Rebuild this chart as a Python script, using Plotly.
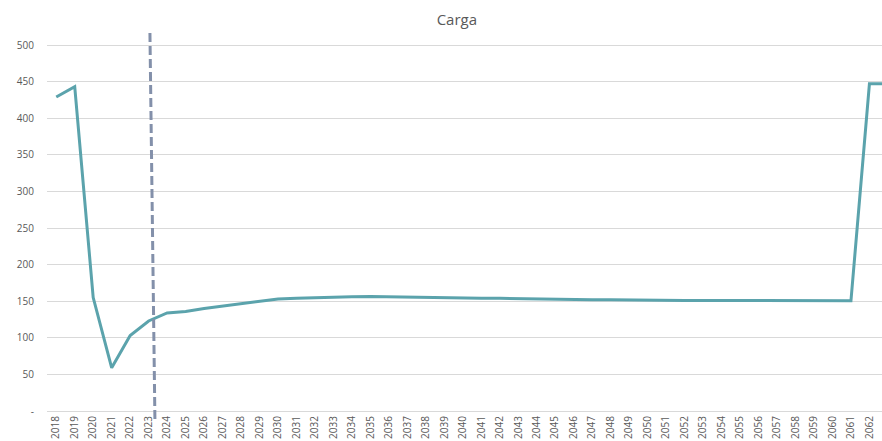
import plotly.graph_objects as go

# Annual series
years = [str(y) for y in range(2018, 2064)]
carga = [
    429, 443, 155, 59, 103, 123, 134, 136, 140, 143,   # 2018-2027
    147, 150, 153, 154, 155, 155.5, 156, 156.5, 156, 155.5,  # 2028-2037
    155, 155, 154.5, 154, 154, 153.5, 153, 153, 152.5, 152,  # 2038-2047
    152, 151.5, 151.5, 151.5, 151, 151, 151, 151, 150.5, 150.5,  # 2048-2057
    150.5, 150.5, 150.5, 150.5, 447, 447,                  # 2058-2063
]
marker_year = "2023"

y_tickvals = [0, 50, 100, 150, 200, 250, 300, 350, 400, 450, 500]
y_ticktext = ["-", "50", "100", "150", "200", "250", "300", "350", "400", "450", "500"]

GRID = "#d9d9d9"
TEXT = "#595959"

fig = go.Figure()
fig.add_trace(go.Scatter(
    x=years, y=carga, mode="lines",
    line=dict(color="#5ba3ac", width=3),
    hoverinfo="x+y", showlegend=False,
))

# Dashed vertical marker at the base year
mi = years.index(marker_year)
fig.add_shape(
    type="line", xref="x", yref="paper",
    x0=mi + 0.07, y0=1.0, x1=mi + 0.34, y1=-0.024,
    line=dict(color="#8390aa", width=3, dash="9px,4px"),
)

fig.update_layout(
    width=882, height=441,
    margin=dict(l=47, r=0, t=33, b=30),
    paper_bgcolor="white", plot_bgcolor="white",
    font=dict(family="Open Sans", color=TEXT, size=10),
    title=dict(text="Carga", x=0.518, xanchor="center", y=0.955, yanchor="middle",
               font=dict(size=15, color=TEXT, family="Open Sans")),
    xaxis=dict(
        type="category", range=[-0.5, 44.68],
        tickangle=-90, showgrid=False, zeroline=False,
        showline=False, ticks="", tickfont=dict(size=10, color=TEXT),
        ticklabelstandoff=2,
    ),
    yaxis=dict(
        range=[0, 516.4], tickvals=y_tickvals, ticktext=y_ticktext,
        showgrid=True, gridcolor=GRID, gridwidth=1,
        zeroline=True, zerolinecolor=GRID, zerolinewidth=1,
        showline=False, ticks="", tickfont=dict(size=10, color=TEXT),
        ticklabelstandoff=12,
    ),
)

fig.write_html("out.html")
